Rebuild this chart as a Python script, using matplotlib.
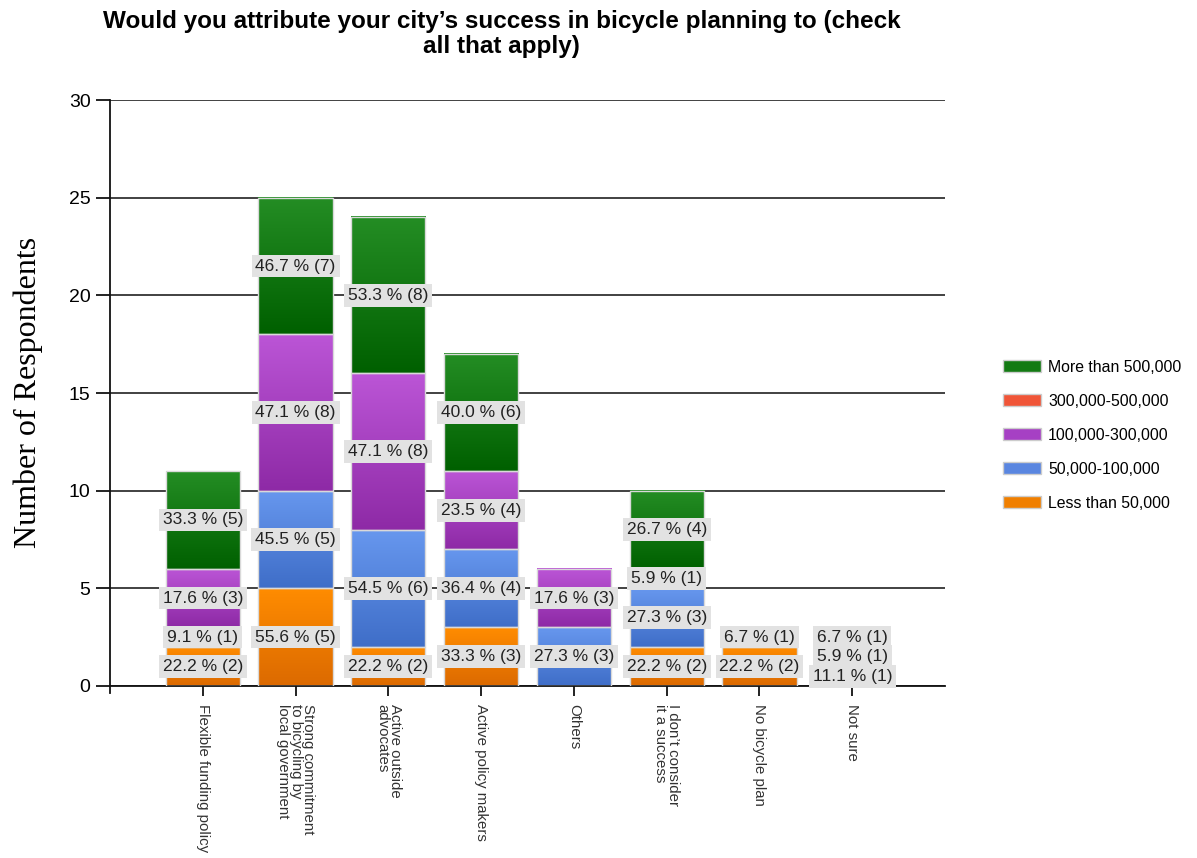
import numpy as np
import matplotlib
matplotlib.use("Agg")
import matplotlib.pyplot as plt
from matplotlib.patches import Patch
from matplotlib.colors import to_rgb

plt.rcParams['font.family'] = ['Liberation Sans', 'DejaVu Sans']

categories = ["Flexible funding policy",
              "Strong commitment\nto bicycling by\nlocal government",
              "Active outside\nadvocates",
              "Active policy makers",
              "Others",
              "I don\u2019t consider\nit a success",
              "No bicycle plan",
              "Not sure"]

series_names = ["Less than 50,000", "50,000-100,000", "100,000-300,000",
                "300,000-500,000", "More than 500,000"]
less_50k = [2, 5, 2, 3, 0, 2, 2, 1]
k50_100k = [1, 5, 6, 4, 3, 3, 0, 0]
k100_300k = [3, 8, 8, 4, 3, 1, 0, 1]
k300_500k = [0, 0, 0, 0, 0, 0, 0, 0]
more_500k = [5, 7, 8, 6, 0, 4, 1, 1]
# respondents in each city-size group (percent = count / group size)
group_sizes = [9, 11, 17, 1, 15]

# (top colour, bottom colour) of the gradient for each series
shades = [("#ff8c00", "#dc6a00"),
          ("#6797ee", "#3f6ec8"),
          ("#bb55d6", "#8e2aa6"),
          ("#f5583a", "#d83a20"),
          ("#248d24", "#006000")]
legend_colors = ["#f07f00", "#5a86e0", "#a640c4", "#f05538", "#137a13"]

series = [less_50k, k50_100k, k100_300k, k300_500k, more_500k]

fig = plt.figure(figsize=(11.97, 8.58), dpi=100)
ax = fig.add_axes([0.0919, 0.2005, 0.6976, 0.6829])

x = np.arange(len(categories))
width = 0.8
bottoms = np.zeros(len(categories))
labels = []
for s, vals in enumerate(series):
    top_c = np.array(to_rgb(shades[s][0]))
    bot_c = np.array(to_rgb(shades[s][1]))
    t = np.linspace(0, 1, 64)[:, None]
    grad = (top_c * (1 - t) + bot_c * t)[:, None, :]
    for i, v in enumerate(vals):
        if v == 0:
            continue
        b = bottoms[i]
        ax.imshow(grad, extent=[x[i] - width / 2, x[i] + width / 2, b, b + v],
                  aspect='auto', interpolation='bilinear', zorder=2)
        ax.bar(x[i], v, width, bottom=b, facecolor='none',
               edgecolor='#d9d9d9', linewidth=1, zorder=3)
        pct = 100.0 * v / group_sizes[s]
        labels.append((x[i], b + v / 2, f"{pct:.1f} % ({v})"))
    bottoms += np.array(vals)

for lx, ly, txt in labels:
    ax.text(lx, ly, txt, ha='center', va='center', fontsize=12.5,
            color='#222222', zorder=5,
            bbox=dict(boxstyle='square,pad=0.22', facecolor='#e2e2e2',
                      edgecolor='none'))

ax.set_xlim(-1, 8)
ax.set_ylim(0, 30)
ax.set_yticks(range(0, 31, 5))
ax.yaxis.grid(True, color='#333333', linewidth=1.3)
ax.set_axisbelow(True)
for side in ['top', 'right']:
    ax.spines[side].set_visible(False)
ax.spines['left'].set_color('#111111')
ax.spines['bottom'].set_color('#111111')
ax.spines['left'].set_linewidth(1.3)
ax.spines['bottom'].set_linewidth(1.3)
ax.spines['left'].set_bounds(-0.35, 30)
ax.tick_params(axis='y', length=10, width=1.3, labelsize=14, pad=4,
               color='#111111')
ax.tick_params(axis='x', length=7, width=1.3, pad=6, color='#111111')
ax.set_xticks(x)
ax.set_xticklabels(categories, rotation=270, ha='center', va='top',
                   multialignment='left', fontsize=10.8, color='#333333',
                   linespacing=0.9)

fig.text(0.419, 0.988, "Would you attribute your city\u2019s success in bicycle planning to (check\nall that apply)",
         ha='center', va='top', fontsize=17.5, fontweight='bold',
         multialignment='center', linespacing=1.1)
fig.text(0.024, 0.543, "Number of Respondents", rotation=90, ha='center',
         va='center', fontsize=23, family=['Liberation Serif', 'DejaVu Serif'])

handles = [Patch(facecolor=legend_colors[s], edgecolor='#cccccc', label=series_names[s])
           for s in range(len(series_names) - 1, -1, -1)]
fig.legend(handles=handles, loc='center left', bbox_to_anchor=(0.83, 0.493),
           frameon=False, fontsize=11.4, handlelength=2.4, handleheight=0.85,
           labelspacing=1.2, handletextpad=0.45, borderaxespad=0.2)

fig.savefig("out.png", dpi=100)
